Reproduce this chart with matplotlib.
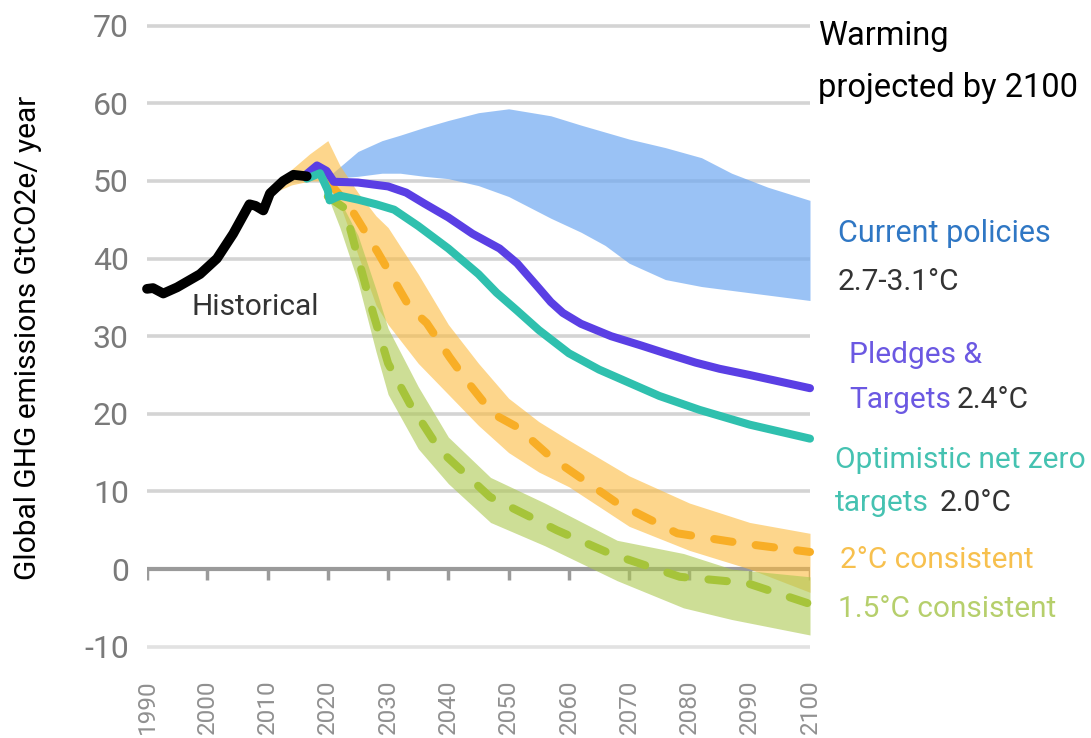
import matplotlib
matplotlib.use("Agg")
import matplotlib.pyplot as plt

plt.rcParams['font.family'] = ['Roboto', 'DejaVu Sans']

# historical emissions
hist_years = [1990, 1991, 1992.7, 1995, 1998.8, 2001.6, 2004.3, 2007, 2008, 2009.3, 2010.4, 2012.6, 2014.3, 2016.5]
hist_vals = [36.1, 36.2, 35.5, 36.3, 38.0, 40.0, 43.2, 47.0, 46.8, 46.2, 48.4, 50.0, 50.8, 50.6]

# current policies band
cp_years = [2020, 2025, 2029, 2032, 2036, 2040, 2045, 2050, 2057, 2062, 2066, 2070, 2076, 2082, 2087, 2093, 2100]
cp_upper = [50.5, 53.8, 55.2, 55.9, 56.9, 57.8, 58.8, 59.3, 58.4, 57.2, 56.3, 55.4, 54.3, 53.0, 51.0, 49.2, 47.5]
cp_lower = [50.3, 50.6, 51.0, 51.0, 50.6, 50.3, 49.4, 48.0, 45.2, 43.4, 41.7, 39.4, 37.3, 36.4, 35.9, 35.3, 34.6]

# pledges & targets
pl_years = [2016.5, 2018.2, 2019.8, 2021, 2025, 2030, 2033, 2036, 2040, 2044, 2048.5, 2051.4, 2055, 2057, 2059, 2062, 2067, 2072, 2076, 2081, 2085, 2090, 2100]
pl_vals = [50.9, 52.0, 51.3, 49.9, 49.8, 49.3, 48.5, 47.1, 45.3, 43.2, 41.3, 39.4, 36.2, 34.4, 33.0, 31.6, 30.0, 28.8, 27.8, 26.6, 25.8, 25.0, 23.3]

# optimistic net zero targets
nz_years = [2016.5, 2018.7, 2020, 2020.3, 2022, 2025, 2028, 2031, 2035, 2040, 2045, 2048, 2051.4, 2055, 2060, 2065, 2070, 2075, 2081.7, 2090, 2100]
nz_vals = [50.3, 51.0, 48.8, 47.5, 48.1, 47.6, 47.0, 46.3, 44.2, 41.3, 38.0, 35.6, 33.3, 30.8, 27.8, 25.7, 24.0, 22.3, 20.5, 18.6, 16.8]

# 2C consistent
c2_years = [2020, 2023.7, 2028.3, 2033.6, 2036.4, 2040.2, 2043, 2047.4, 2051.4, 2056.3, 2058.5, 2068, 2078, 2088.8, 2100]
c2_vals = [50.0, 46.6, 40.8, 33.7, 31.7, 27.3, 24.3, 20.0, 18.3, 14.9, 13.6, 8.5, 4.6, 3.3, 2.2]
c2_band_years = [2011, 2014, 2017, 2020, 2022, 2025, 2028, 2030, 2035, 2040, 2045, 2050, 2055, 2060, 2070, 2080, 2090, 2100]
c2_upper = [48.5, 51.5, 53.5, 55.2, 52.0, 48.5, 45.5, 44.0, 38.0, 31.5, 26.5, 22.0, 19.0, 16.6, 12.0, 8.5, 6.0, 4.6]
c2_lower = [48.5, 49.5, 50.0, 50.0, 47.0, 40.5, 34.0, 31.5, 26.5, 22.5, 18.5, 15.0, 12.5, 10.6, 5.5, 2.4, 0.0, -3.0]

# 1.5C consistent
c15_years = [2020, 2022.8, 2024.8, 2027.5, 2030, 2033.6, 2038.6, 2046.9, 2055.7, 2058, 2066.8, 2078.4, 2089.5, 2100]
c15_vals = [48.0, 46.5, 40.7, 33.0, 26.5, 21.3, 15.3, 9.3, 5.9, 5.0, 2.0, -1.0, -1.8, -4.5]
c15_band_years = [2020, 2022, 2025, 2028, 2030, 2035, 2040, 2047, 2056, 2068, 2079, 2087, 2100]
c15_upper = [48.5, 47.5, 43.0, 36.0, 31.0, 23.5, 17.0, 11.8, 8.5, 3.7, 2.0, 0.0, -1.0]
c15_lower = [48.0, 44.0, 37.0, 28.0, 22.5, 15.5, 11.0, 6.0, 3.0, -1.5, -5.0, -6.5, -8.5]

x_ticks = list(range(1990, 2101, 10))
y_ticks = list(range(-10, 71, 10))

W, H = 1091, 738
fig = plt.figure(figsize=(W / 100, H / 100), dpi=100)
ax = fig.add_axes([147 / W, 1 - 654.4 / H, 663 / W, 636.4 / H])
ax.set_xlim(1990, 2100)
ax.set_ylim(-11, 71)

# grid
for v in y_ticks:
    if v == 0:
        continue
    ax.axhline(v, color='#d4d4d4' if v != -10 else '#e2e2e2', lw=2.6, zorder=0.5)
ax.axhline(0, color='#9a9a9a', lw=3, zorder=0.6)
ax.vlines(x_ticks, -1.4, 0, color='#9a9a9a', lw=2.5, zorder=0.6)

# bands
ax.fill_between(cp_years, cp_lower, cp_upper, color='#70a9f1', alpha=0.7, lw=0, zorder=1)
ax.fill_between(c2_band_years, c2_lower, c2_upper, color='#fcbb3f', alpha=0.6, lw=0, zorder=1.1)
ax.fill_between(c15_band_years, c15_lower, c15_upper, color='#acc850', alpha=0.6, lw=0, zorder=1.2)

# dashed pathways
ax.plot(c2_years, c2_vals, color='#f8ae26', lw=5.8, dashes=(2.3, 2.9), dash_capstyle='round', zorder=2, clip_on=False)
ax.plot(c15_years, c15_vals, color='#a6c43a', lw=5.8, dashes=(2.3, 2.9), dash_capstyle='round', zorder=2.1, clip_on=False)

# solid pathways
ax.plot(pl_years, pl_vals, color='#5a3fe4', lw=5.8, solid_capstyle='round', solid_joinstyle='round', zorder=3, clip_on=False)
ax.plot(nz_years, nz_vals, color='#2fc0ae', lw=5.8, solid_capstyle='round', solid_joinstyle='round', zorder=3.1, clip_on=False)
ax.plot(hist_years, hist_vals, color='black', lw=7, solid_capstyle='round', solid_joinstyle='round', zorder=3.2, clip_on=False)

for s in ax.spines.values():
    s.set_visible(False)
ax.set_xticks(x_ticks)
ax.set_xticklabels([str(x) for x in x_ticks], rotation=90, fontsize=17.5, color='#909090')
ax.set_yticks(y_ticks)
ax.set_yticklabels([str(v) for v in y_ticks], fontsize=23, color='#7a7a7a')
ax.tick_params(axis='x', length=0, pad=18)
ax.tick_params(axis='y', length=0, pad=13)

fig.text(28 / W, 1 - 338 / H, 'Global GHG emissions GtCO2e/ year', rotation=90,
         ha='center', va='center', fontsize=21.5, color='black')

ax.text(1997.4, 32.7, 'Historical', fontsize=21.5, color='#333333', va='baseline', ha='left')


def label(x, y, s, color, size=21.5):
    return fig.text(x / W, 1 - y / H, s, color=color, fontsize=size, ha='left', va='baseline')


def append(prev, s, color, gap, size=21.5):
    return ax.annotate(s, xy=(1, 0), xycoords=prev, xytext=(gap, 0), textcoords='offset points',
                       color=color, fontsize=size, ha='left', va='bottom')


label(818, 45, 'Warming', 'black', 23.5)
label(818, 97, 'projected by 2100', 'black', 23.5)
label(838, 242, 'Current policies', '#2f77c4', 22)
label(838, 290, '2.7-3.1°C', '#333333')
label(849, 363, 'Pledges &', '#6b58e2')
t = label(849, 408, 'Targets', '#6b58e2')
append(t, '2.4°C', '#333333', 4)
label(835, 468, 'Optimistic net zero', '#45c2b1')
t = label(835, 511, 'targets', '#45c2b1')
append(t, '2.0°C', '#333333', 8)
label(840, 568, '2°C consistent', '#f7c04e')
label(838, 617, '1.5°C consistent', '#b6cf6c')

fig.savefig('out.png', dpi=100)
